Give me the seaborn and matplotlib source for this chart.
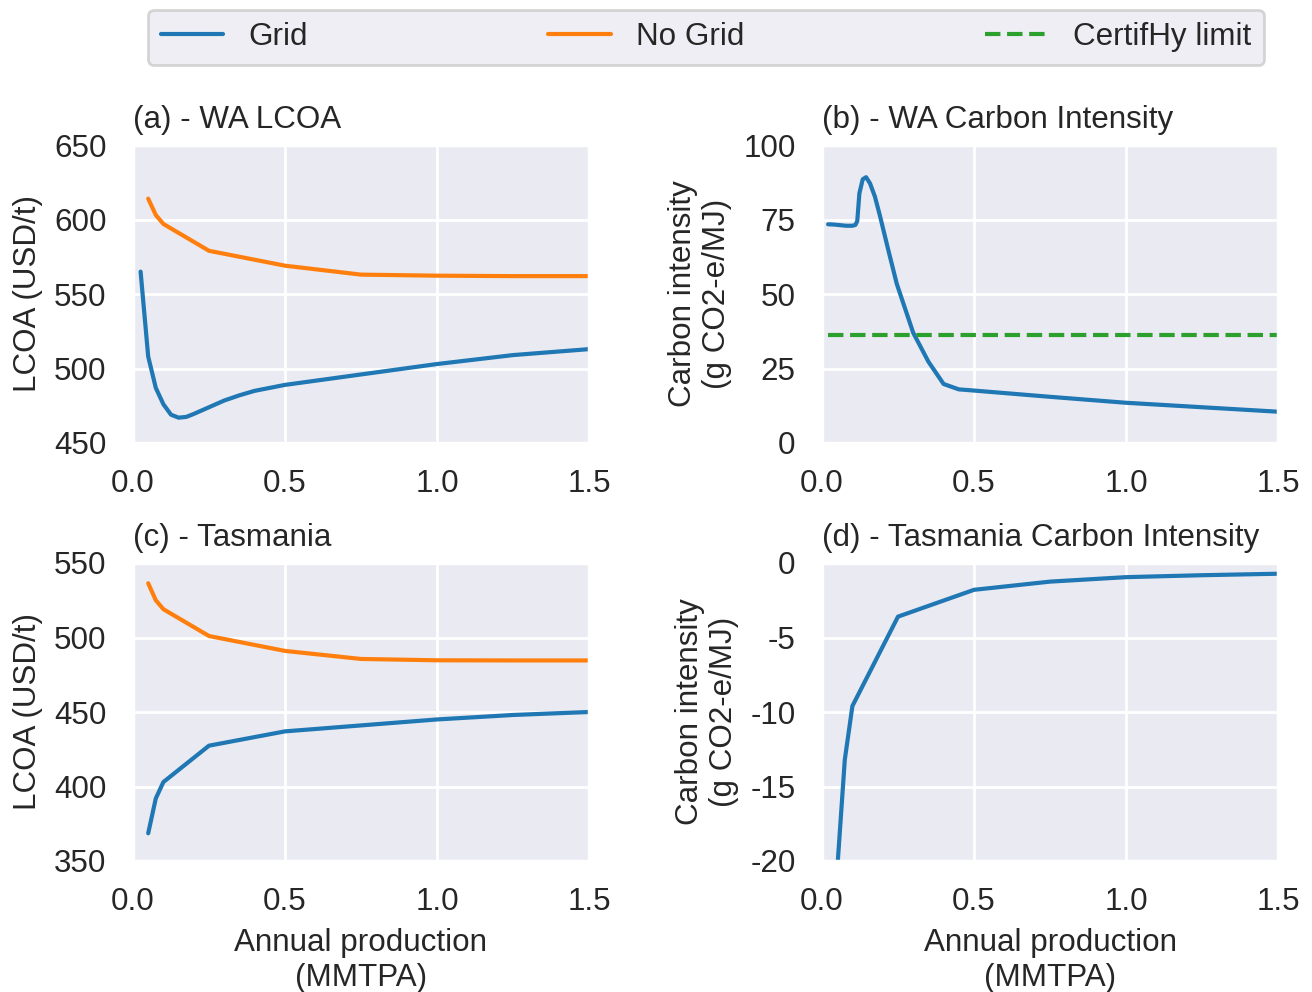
import numpy as np
import pandas as pd
import matplotlib
matplotlib.use("Agg")
import matplotlib.pyplot as plt
import seaborn as sns

# ---------------- data ----------------
# (a) WA LCOA
wa_grid_x = [0.025, 0.05, 0.075, 0.1, 0.125, 0.15, 0.175, 0.2, 0.25, 0.3, 0.35, 0.4, 0.45, 0.5, 0.75, 1.0, 1.25, 1.5]
wa_grid_lcoa = [565, 508, 487, 476, 469, 467, 467.5, 469.5, 474, 478.5, 482, 485, 487, 489, 496, 503, 509, 513]
wa_nogrid_x = [0.05, 0.075, 0.1, 0.25, 0.5, 0.75, 1.0, 1.25, 1.5]
wa_nogrid_lcoa = [614, 603, 597, 579, 569, 563, 562.3, 562, 562]

# (b) WA carbon intensity
wa_ci_x = [0.02, 0.04, 0.06, 0.08, 0.1, 0.11, 0.116, 0.123, 0.134, 0.145, 0.158, 0.174, 0.19,
           0.218, 0.246, 0.273, 0.3, 0.35, 0.4, 0.45, 0.5, 0.75, 1.0, 1.25, 1.5]
wa_ci = [73.4, 73.3, 73.1, 72.9, 72.9, 73.2, 74.5, 83.8, 88.5, 89.2, 87.1, 82.7, 76.5,
         64.8, 53.4, 45.2, 37.0, 27.3, 19.8, 18.0, 17.6, 15.5, 13.5, 12.0, 10.5]
certifhy_x = [0.02, 1.5]
certifhy_limit = [36.4, 36.4]

# (c) Tasmania LCOA
tas_x = [0.05, 0.075, 0.1, 0.25, 0.5, 0.75, 1.0, 1.25, 1.5]
tas_grid_lcoa = [368.6, 392, 403, 427.4, 437, 441, 445, 448, 450]
tas_nogrid_lcoa = [536.4, 525, 519, 501, 491, 485.6, 484.7, 484.6, 484.6]

# (d) Tasmania carbon intensity
tas_ci = [-20.6, -13.2, -9.6, -3.6, -1.8, -1.25, -0.95, -0.82, -0.72]

# ---------------- style ----------------
sns.set_theme(style="darkgrid")
plt.rcParams['font.family'] = ['Liberation Sans', 'DejaVu Sans']
fs = 11.3
plt.rcParams.update({
    'font.size': fs, 'axes.labelsize': fs, 'axes.titlesize': fs,
    'xtick.labelsize': fs, 'ytick.labelsize': fs, 'legend.fontsize': fs,
    'lines.linewidth': 1.5, 'grid.linewidth': 1.0,
    'axes.unicode_minus': False,
})

blue, orange, green = '#1f77b4', '#ff7f0e', '#2ca02c'

fig = plt.figure(figsize=(6.56, 4.96), dpi=200)
L1, R1 = 133 / 1312, 589 / 1312
L2, R2 = 822 / 1312, 1278 / 1312
T1, B1 = 1 - 145 / 992, 1 - 443 / 992
T2, B2 = 1 - 563 / 992, 1 - 861 / 992
axA = fig.add_axes([L1, B1, R1 - L1, T1 - B1])
axB = fig.add_axes([L2, B1, R2 - L2, T1 - B1])
axC = fig.add_axes([L1, B2, R1 - L1, T2 - B2])
axD = fig.add_axes([L2, B2, R2 - L2, T2 - B2])

# (a)
dfa1 = pd.DataFrame({'x': wa_grid_x, 'y': wa_grid_lcoa})
dfa2 = pd.DataFrame({'x': wa_nogrid_x, 'y': wa_nogrid_lcoa})
sns.lineplot(data=dfa1, x='x', y='y', ax=axA, color=blue, label='Grid', legend=False)
sns.lineplot(data=dfa2, x='x', y='y', ax=axA, color=orange, label='No Grid', legend=False)
axA.set_ylim(450, 650)
axA.set_yticks([450, 500, 550, 600, 650])
axA.set_ylabel('LCOA (USD/t)')
axA.set_title('(a) - WA LCOA', loc='left')

# (b)
dfb = pd.DataFrame({'x': wa_ci_x, 'y': wa_ci})
dfl = pd.DataFrame({'x': certifhy_x, 'y': certifhy_limit})
sns.lineplot(data=dfb, x='x', y='y', ax=axB, color=blue, legend=False)
sns.lineplot(data=dfl, x='x', y='y', ax=axB, color=green, linestyle='--', label='CertifHy limit', legend=False)
axB.set_ylim(0, 100)
axB.set_yticks([0, 25, 50, 75, 100])
axB.set_ylabel('Carbon intensity\n(g CO2-e/MJ)')
axB.set_title('(b) - WA Carbon Intensity', loc='left')

# (c)
dfc = pd.DataFrame({'x': tas_x, 'grid': tas_grid_lcoa, 'nogrid': tas_nogrid_lcoa})
sns.lineplot(data=dfc, x='x', y='grid', ax=axC, color=blue, legend=False)
sns.lineplot(data=dfc, x='x', y='nogrid', ax=axC, color=orange, legend=False)
axC.set_ylim(350, 550)
axC.set_yticks([350, 400, 450, 500, 550])
axC.set_ylabel('LCOA (USD/t)')
axC.set_title('(c) - Tasmania', loc='left')

# (d)
dfd = pd.DataFrame({'x': tas_x, 'y': tas_ci})
sns.lineplot(data=dfd, x='x', y='y', ax=axD, color=blue, legend=False)
axD.set_ylim(-20, 0)
axD.set_yticks([-20, -15, -10, -5, 0])
axD.set_ylabel('Carbon intensity\n(g CO2-e/MJ)')
axD.set_title('(d) - Tasmania Carbon Intensity', loc='left')

for ax in (axA, axB, axC, axD):
    ax.set_xlim(0, 1.5)
    ax.set_xticks([0.0, 0.5, 1.0, 1.5])
    ax.set_xticklabels(['0.0', '0.5', '1.0', '1.5'])
for ax in (axA, axB):
    ax.set_xlabel('')
for ax in (axC, axD):
    ax.set_xlabel('Annual production\n(MMTPA)')

h1, l1 = axA.get_legend_handles_labels()
h2, l2 = axB.get_legend_handles_labels()
fig.legend(h1 + h2, l1 + l2, loc='lower left', ncol=3, mode='expand',
           bbox_to_anchor=(148 / 1312, 1 - 65 / 992, (1264 - 148) / 1312, 55 / 992),
           borderaxespad=0)

fig.savefig('out.png', dpi=200)
